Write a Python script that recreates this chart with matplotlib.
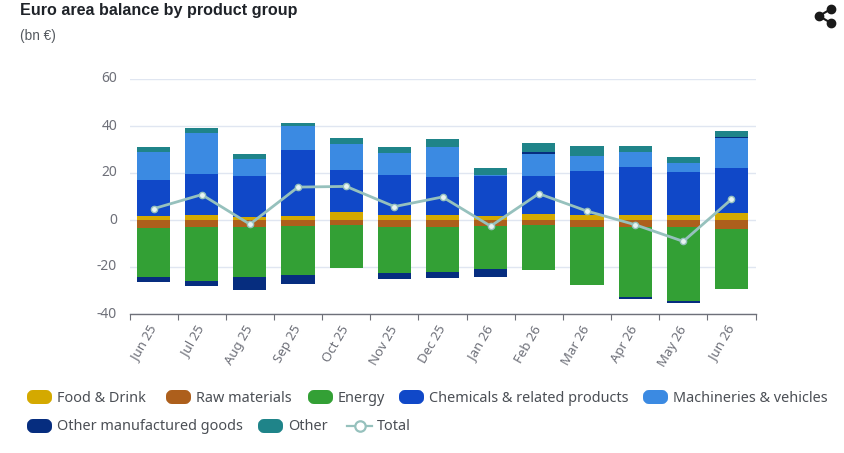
import numpy as np
import matplotlib
matplotlib.use('Agg')
import matplotlib.pyplot as plt
from matplotlib.patches import FancyBboxPatch

months = ['Jun 25', 'Jul 25', 'Aug 25', 'Sep 25', 'Oct 25', 'Nov 25', 'Dec 25',
          'Jan 26', 'Feb 26', 'Mar 26', 'Apr 26', 'May 26', 'Jun 26']

food = [1.85, 2.1, 1.3, 1.85, 3.4, 2.1, 2.1, 1.6, 2.7, 2.1, 2.1, 2.0, 2.8]
raw = [-3.4, -3.0, -3.0, -2.7, -2.1, -3.1, -2.8, -2.4, -2.0, -2.8, -3.1, -3.0, -3.8]
energy = [-21.0, -23.1, -21.3, -20.7, -18.4, -19.3, -19.3, -18.6, -19.3, -24.7, -29.8, -31.3, -25.4]
chemicals = [15.0, 17.3, 17.3, 28.1, 17.7, 16.9, 16.0, 17.0, 16.0, 18.6, 20.6, 18.6, 19.4]
machinery = [12.0, 17.6, 7.4, 10.2, 11.3, 9.5, 13.0, 0.7, 9.2, 6.5, 6.2, 3.7, 12.9]
manufactured = [-1.8, -2.0, -5.5, -3.8, -0.1, -2.6, -2.6, -3.4, 1.1, 0.0, -0.7, -1.1, 0.4]
other = [2.1, 2.1, 2.1, 1.3, 2.6, 2.4, 3.4, 2.8, 3.7, 4.5, 2.8, 2.3, 2.4]
total = [4.8, 10.8, -1.8, 14.0, 14.3, 5.7, 9.8, -2.6, 11.2, 3.8, -2.0, -9.1, 8.8]

names = ['Food & Drink', 'Raw materials', 'Energy', 'Chemicals & related products',
         'Machineries & vehicles', 'Other manufactured goods', 'Other']
series = [food, raw, energy, chemicals, machinery, manufactured, other]
colors = ['#d4a900', '#ad5f1c', '#33a035', '#1048c8', '#3b8ae2', '#062d7f', '#1f8489']
line_color = '#96c1bd'
text_color = '#6e7079'

plt.rcParams['font.family'] = ['Noto Sans', 'DejaVu Sans']
plt.rcParams['axes.unicode_minus'] = False

fig = plt.figure(figsize=(8.44, 4.53), dpi=100)
ax = fig.add_axes([129.5 / 844, 1 - 314 / 453, 626 / 844, 235 / 453])

x = np.arange(len(months))
pos = np.zeros(len(months))
neg = np.zeros(len(months))
for vals, col in zip(series, colors):
    vals = np.array(vals)
    bottoms = np.where(vals >= 0, pos, neg)
    ax.bar(x, vals, 0.69, bottom=bottoms, color=col, zorder=2)
    pos = pos + np.clip(vals, 0, None)
    neg = neg + np.clip(vals, None, 0)

ax.plot(x, total, color=line_color, lw=2, marker='o', ms=4.5, mfc='#e8f3f2',
        mec=line_color, mew=1, zorder=3)

ax.set_xlim(-0.5, len(months) - 0.5)
ax.set_ylim(-40, 60)
ax.set_yticks([-40, -20, 0, 20, 40, 60])
ax.grid(axis='y', color='#e0e6f1', lw=1, zorder=0)
ax.set_axisbelow(True)
for side in ['top', 'right', 'left']:
    ax.spines[side].set_visible(False)
ax.spines['bottom'].set_color(text_color)
ax.spines['bottom'].set_linewidth(1)
ax.tick_params(axis='y', length=0, labelsize=10, labelcolor=text_color, pad=9)
for lab in ax.get_yticklabels():
    lab.set_y(lab.get_position()[1])
    lab.set_verticalalignment('center')

ax.set_xticks(np.arange(len(months) + 1) - 0.5)
ax.set_xticklabels([])
ax.tick_params(axis='x', which='major', length=4, color=text_color)
ax.set_xticks(x, minor=True)
ax.set_xticklabels(months, minor=True, rotation=60, ha='right', va='center',
                   rotation_mode='anchor', fontsize=9.5, color=text_color)
ax.tick_params(axis='x', which='minor', length=0, pad=9)

# overlay in pixel coordinates for title, legend, share icon
ov = fig.add_axes([0, 0, 1, 1], facecolor='none')
ov.set_xlim(0, 844)
ov.set_ylim(453, 0)
ov.axis('off')

ov.text(20, 10, 'Euro area balance by product group', fontsize=11.6, fontweight='bold',
        family='Liberation Sans', color='#1f2329', va='center')
ov.text(20, 36, '(bn €)', fontsize=9.8, family='Liberation Sans', color='#555a60', va='center')

legend_pos = [(27, 397), (166, 397), (308, 397), (399, 397), (643, 397), (27, 426), (258, 426)]
for name, col, (lx, ly) in zip(names, colors, legend_pos):
    ov.add_patch(FancyBboxPatch((lx + 3, ly - 4), 19, 8, boxstyle='round,pad=0,rounding_size=3',
                                mutation_aspect=1, fc=col, ec=col, lw=6 * 0.72, joinstyle='round'))
    ov.text(lx + 30, ly + 1, name, fontsize=10.4, color='#4b4f55', va='center')

ov.plot([347, 372], [426, 426], color=line_color, lw=1.6)
ov.plot([359.5], [426], 'o', ms=7.5, mfc='white', mec=line_color, mew=1.6)
ov.text(377, 427, 'Total', fontsize=10.4, color='#4b4f55', va='center')

# share icon
ov.plot([831, 819, 831], [9, 16, 23], color='#1a1a1a', lw=1.5)
ov.plot([831, 819, 831], [9, 16, 23], 'o', color='#1a1a1a', ms=6)

fig.savefig('out.png', dpi=100)
